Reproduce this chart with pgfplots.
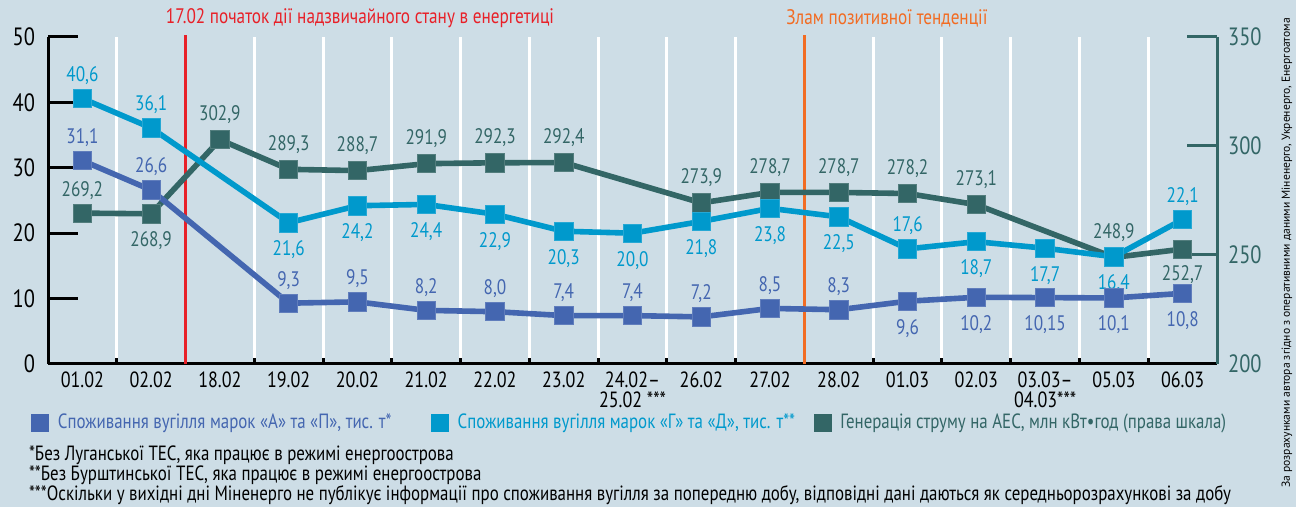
\documentclass[border=0pt]{standalone}
\usepackage{pgfplots}
\pgfplotsset{compat=1.18}
\usepackage{pgfplotstable}
\usepackage{fontspec}
\setmainfont{PT Sans}[FakeStretch=0.82]
\newfontfamily\srcfont{PT Sans}
\definecolor{bg}{RGB}{205,221,230}
\definecolor{cA}{RGB}{68,102,176}
\definecolor{cC}{RGB}{0,153,204}
\definecolor{cT}{RGB}{51,102,102}
\definecolor{cR}{RGB}{232,32,40}
\definecolor{cO}{RGB}{242,108,35}

\pgfplotstableread{
x y lab off
0 31.1 31,1 11.5
1 26.6 26,6 11.5
3 9.3 9,3 11.5
4 9.5 9,5 11.5
5 8.2 8,2 11.5
6 8.0 8,0 11.5
7 7.4 7,4 11.5
8 7.4 7,4 11.5
9 7.2 7,2 11.5
10 8.5 8,5 11.5
11 8.3 8,3 11.5
12 9.6 9,6 -13.5
13 10.2 10,2 -13.5
14 10.15 10,15 -13.5
15 10.1 10,1 -13.5
16 10.8 10,8 -13.5
}\tabA

\pgfplotstableread{
x y lab off
0 40.6 40,6 11.5
1 36.1 36,1 11.5
3 21.6 21,6 -13.5
4 24.2 24,2 -13.5
5 24.4 24,4 -13.5
6 22.9 22,9 -13.5
7 20.3 20,3 -13.5
8 20.0 20,0 -13.5
9 21.8 21,8 -13.5
10 23.8 23,8 -13.5
11 22.5 22,5 -13.5
12 17.6 17,6 11.5
13 18.7 18,7 -13.5
14 17.7 17,7 -13.5
15 16.4 16,4 -13.5
16 22.1 22,1 11.5
}\tabC

\pgfplotstableread{
x y lab off
0 269.2 269,2 11.5
1 268.9 268,9 -13.5
2 302.9 302,9 12.5
3 289.3 289,3 12.5
4 288.7 288,7 12.5
5 291.9 291,9 12.5
6 292.3 292,3 12.5
7 292.4 292,4 12.5
9 273.9 273,9 12.5
10 278.7 278,7 12.5
11 278.7 278,7 12.5
12 278.2 278,2 12.5
13 273.1 273,1 12.5
15 248.9 248,9 12.5
16 252.7 252,7 -12.5
}\tabT

\pgfplotsset{
  common/.style={
    at={(24pt,71.5pt)}, anchor=south west,
    scale only axis, width=584.5pt, height=163.5pt,
    xmin=-0.5, xmax=16.5, clip=false,
    tick align=inside, major tick length=15pt,
    /pgf/number format/assume math mode=true,
  },
  ser/.style={
    color=#1, line width=2.8pt, mark=square*, mark size=4.6pt, forget plot,
    mark options={solid, line width=0.4pt, draw=#1!85!white, fill=#1},
    point meta=explicit symbolic,
    nodes near coords,
    visualization depends on={\thisrow{off} \as \myoff},
    nodes near coords style={anchor=center, yshift=\myoff pt, text=#1,
      font=\fontsize{10.5}{12}\selectfont, inner sep=0pt},
  },
}

\begin{document}
\begin{tikzpicture}
\path[use as bounding box, fill=bg] (0,0) rectangle (648pt,253.5pt);

% right scale axis (teal series, grid, x labels)
\begin{axis}[common,
  ymin=200, ymax=350,
  axis x line*=bottom, axis y line*=right,
  x axis line style={black, line width=1.5pt},
  y axis line style={cT, line width=1.5pt},
  xtick={0,...,16},
  xticklabels={01.02,02.02,18.02,19.02,20.02,21.02,22.02,23.02,{24.02--\\25.02 ***},26.02,27.02,28.02,01.03,02.03,{03.03--\\04.03***},05.03,06.03},
  x tick label style={font=\fontsize{11}{10}\selectfont, align=center, anchor=north, yshift=-0.5pt},
  major x tick style={draw=none},
  minor xtick={0.5,1.5,...,15.5},
  minor x tick style={black, line width=1.5pt},
  minor tick length=3pt,
  xminorgrids=true,
  minor x grid style={white, line width=1.5pt},
  ytick={250,300,350},
  extra y ticks={200},
  extra y tick style={major tick length=0pt},
  ytick style={cT, line width=1.5pt},
  yticklabel style={text=cT, font=\fontsize{12.5}{14}\selectfont, xshift=2pt},
]
\draw[cR, line width=1.5pt] (axis cs:1.5,200) -- (axis cs:1.5,351);
\draw[cO, line width=1.5pt] (axis cs:10.5,200) -- (axis cs:10.5,351);
\addplot[ser=cT] table[x=x, y=y, meta=lab] {\tabT};
\end{axis}

% left scale axis
\begin{axis}[common,
  ymin=0, ymax=50,
  axis x line=none, axis y line*=left,
  y axis line style={black, line width=1.5pt},
  ytick={0,10,...,50},
  ytick style={black, line width=1.5pt},
  yticklabel style={text=black, font=\fontsize{12.5}{14}\selectfont, xshift=-3pt},
  legend columns=3,
  legend style={at={(rel axis cs:-0.0145,-0.180)}, anchor=west, draw=none, fill=none,
    inner sep=0pt, outer sep=0pt, nodes={inner sep=0pt, anchor=west},
    font=\fontsize{10.3}{12}\selectfont},
  legend image code/.code={\fill[#1] (0pt,-4.25pt) rectangle (8.5pt,4.25pt);},
]
\addplot[ser=cC] table[x=x, y=y, meta=lab] {\tabC};
\addplot[ser=cA] table[x=x, y=y, meta=lab] {\tabA};
\addlegendimage{cA}
\addlegendentry{\hspace{4.5pt}\makebox[186.5pt][l]{\textcolor{cA}{Споживання вугілля марок «А» та «П», тис. т*}}}
\addlegendimage{cC}
\addlegendentry{\hspace{4.5pt}\makebox[178pt][l]{\textcolor{cC}{Споживання вугілля марок «Г» та «Д», тис. т**}}}
\addlegendimage{cT}
\addlegendentry{\hspace{4.5pt}\textcolor{cT}{Генерація струму на АЕС, млн кВт•год (права шкала)}}
\end{axis}

\node[text=cR, font=\fontsize{10.5}{12}\selectfont] at (180pt,244.5pt) {17.02 початок дії надзвичайного стану в енергетиці};
\node[text=cO, font=\fontsize{10.5}{12}\selectfont] at (443.5pt,244.5pt) {Злам позитивної тенденції};

\node[anchor=west, font=\fontsize{10.3}{11}\selectfont] at (11pt,26pt) {*Без Луганської ТЕС, яка працює в режимі енергоострова};
\node[anchor=west, font=\fontsize{10.3}{11}\selectfont] at (11pt,15.7pt) {**Без Бурштинської ТЕС, яка працює в режимі енергоострова};
\node[anchor=west, font=\fontsize{10.3}{11}\selectfont] at (11pt,6pt) {***Оскільки у вихідні дні Міненерго не публікує інформації про споживання вугілля за попередню добу, відповідні дані даються як середньорозрахункові за добу};

\node[rotate=90, font=\srcfont\fontsize{5.8}{7}\selectfont] at (643.5pt,127pt) {За розрахунками автора згідно з оперативними даними Міненерго, Укренерго, Енергоатома};
\end{tikzpicture}
\end{document}
